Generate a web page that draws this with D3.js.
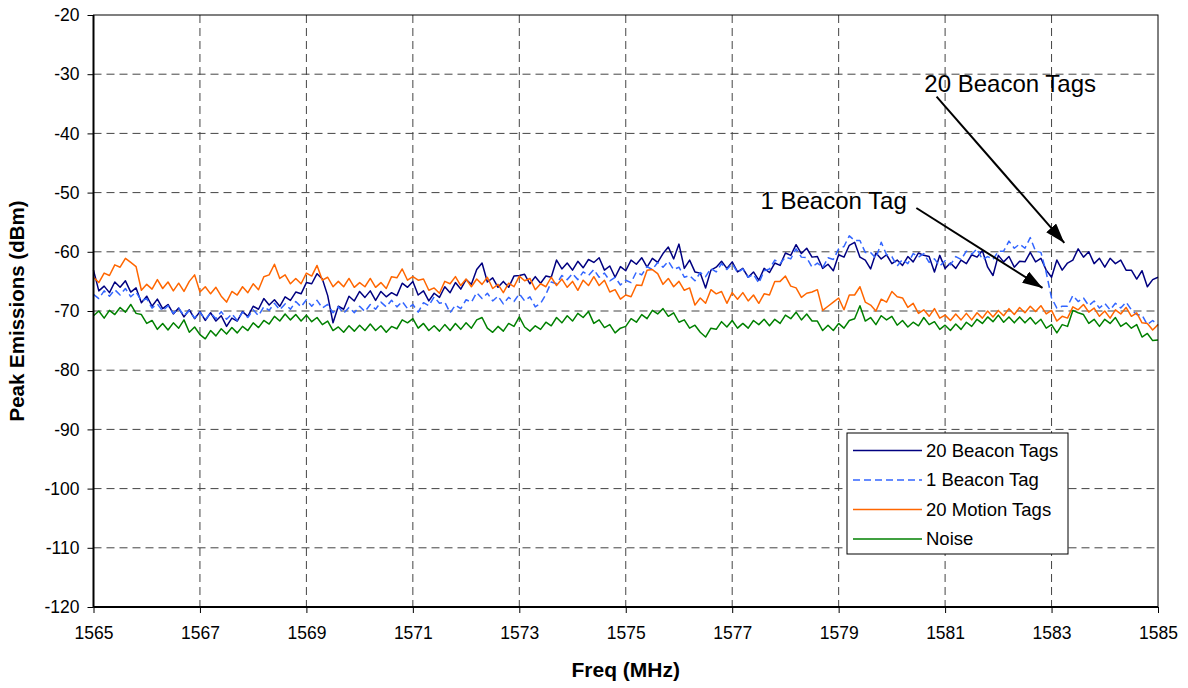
<!DOCTYPE html>
<html>
<head>
<meta charset="utf-8">
<script src="https://cdn.jsdelivr.net/npm/d3@7"></script>
<style>
  body { margin: 0; background: #fff; }
  svg { display: block; font-family: "Liberation Sans", Arial, sans-serif; }
</style>
</head>
<body>
<div id="chart"></div>
<script>
// sweep: 1565 - 1585 MHz, one reading every 0.1 MHz
var freqStart = 1565, freqStep = 0.1, nPoints = 201;

var beacon20 = [
  -63.1,-66.6,-65.8,-66.9,-65.1,-66.0,-64.9,-66.8,-66.1,-68.6,
  -67.5,-69.2,-68.0,-69.6,-68.9,-70.5,-69.5,-71.0,-69.8,-71.3,
  -70.1,-71.6,-70.3,-71.7,-70.8,-72.6,-71.2,-71.7,-70.1,-70.9,
  -69.2,-69.7,-67.9,-69.0,-68.1,-69.2,-67.6,-68.2,-66.8,-67.1,
  -65.2,-65.4,-63.7,-64.6,-67.4,-72.0,-69.2,-69.7,-67.5,-68.3,
  -66.7,-67.7,-66.6,-68.2,-66.7,-67.6,-66.9,-67.4,-65.3,-66.0,
  -65.0,-67.3,-66.6,-68.3,-67.0,-67.7,-65.9,-66.9,-65.2,-66.3,
  -64.7,-65.5,-63.0,-61.9,-65.1,-64.4,-66.0,-65.0,-66.0,-64.1,
  -64.0,-63.8,-65.4,-64.2,-65.3,-64.1,-64.3,-61.4,-62.9,-61.9,
  -63.1,-61.6,-62.7,-61.3,-61.8,-61.0,-63.1,-62.4,-64.3,-62.5,
  -63.2,-61.4,-62.1,-61.0,-62.6,-61.1,-61.8,-60.3,-59.2,-61.2,
  -58.7,-62.8,-61.4,-63.4,-63.6,-66.1,-63.1,-62.6,-61.6,-62.8,
  -61.7,-63.4,-62.8,-64.3,-63.4,-64.8,-62.8,-63.5,-61.9,-62.3,
  -60.2,-60.6,-58.8,-60.3,-59.4,-60.9,-60.8,-62.8,-62.1,-63.2,
  -60.5,-60.9,-58.9,-58.4,-60.9,-61.4,-62.9,-60.2,-61.2,-60.5,
  -62.0,-61.4,-62.3,-60.8,-61.7,-60.2,-60.6,-60.8,-63.4,-60.6,
  -62.8,-61.9,-62.8,-61.4,-62.0,-60.5,-60.9,-59.8,-62.6,-64.0,
  -60.6,-61.7,-60.8,-62.6,-61.6,-61.7,-60.1,-61.7,-61.1,-63.1,
  -64.3,-61.4,-63.1,-61.9,-61.4,-59.5,-60.9,-60.0,-62.0,-61.1,
  -62.6,-61.1,-62.0,-61.4,-63.1,-63.1,-64.6,-63.2,-65.9,-64.7,
  -64.3
];

var beacon1 = [
  -67.2,-67.9,-66.6,-67.5,-66.4,-67.3,-66.2,-67.6,-66.8,-68.3,
  -67.9,-69.5,-68.8,-70.0,-69.1,-70.4,-69.5,-70.8,-69.9,-71.2,
  -70.2,-71.5,-70.3,-71.3,-70.1,-71.4,-70.5,-71.6,-70.2,-71.1,
  -69.8,-70.8,-69.3,-69.9,-68.7,-69.8,-68.8,-69.7,-68.4,-69.3,
  -68.1,-69.2,-68.2,-69.5,-68.9,-70.3,-69.3,-70.4,-69.4,-70.3,
  -69.2,-70.1,-68.9,-69.7,-68.5,-69.3,-68.2,-69.3,-68.4,-69.6,
  -68.9,-70.2,-68.6,-69.1,-67.6,-68.7,-68.5,-70.3,-69.0,-69.6,
  -68.1,-68.5,-66.9,-67.9,-67.0,-68.3,-67.5,-68.8,-67.7,-68.4,
  -67.1,-68.3,-67.6,-69.3,-68.7,-67.2,-65.1,-65.4,-64.0,-64.7,
  -63.7,-64.7,-63.4,-64.0,-63.0,-64.3,-63.6,-64.9,-64.3,-65.6,
  -64.8,-65.2,-63.4,-63.9,-62.5,-63.0,-61.8,-62.6,-61.6,-63.0,
  -62.6,-64.3,-64.0,-64.9,-63.5,-64.2,-62.8,-63.4,-62.0,-63.0,
  -62.0,-63.5,-62.9,-64.3,-63.8,-65.3,-63.2,-62.9,-61.4,-62.0,
  -60.9,-61.2,-59.5,-60.9,-61.0,-62.6,-61.9,-62.7,-61.0,-61.3,
  -59.5,-59.1,-57.3,-58.1,-58.1,-60.1,-60.1,-61.1,-58.4,-60.5,
  -60.8,-62.4,-61.3,-62.0,-60.3,-60.9,-60.3,-61.8,-61.2,-62.4,
  -61.5,-62.2,-60.8,-61.3,-59.9,-60.4,-59.5,-61.3,-60.8,-61.3,
  -59.9,-59.9,-58.2,-59.4,-58.7,-59.4,-57.6,-59.9,-60.1,-63.5,
  -67.8,-69.5,-69.2,-69.2,-67.4,-68.4,-67.8,-69.1,-68.3,-69.5,
  -68.7,-69.8,-68.7,-69.5,-68.5,-69.8,-70.6,-70.7,-72.3,-71.6,
  -72.4
];

var motion20 = [
  -64.3,-65.2,-63.6,-64.0,-62.2,-62.6,-61.1,-61.8,-62.5,-66.5,
  -65.5,-66.3,-64.7,-66.2,-65.1,-66.6,-65.3,-66.7,-65.0,-63.9,
  -66.8,-65.9,-67.1,-66.0,-67.5,-68.5,-66.7,-67.3,-65.9,-66.9,
  -65.4,-66.4,-64.2,-63.9,-62.1,-64.5,-63.9,-65.4,-64.5,-65.4,
  -63.6,-64.1,-62.3,-64.8,-64.3,-65.9,-65.0,-65.9,-64.5,-66.0,
  -65.2,-65.9,-64.5,-66.0,-65.2,-66.2,-64.2,-64.4,-62.9,-64.8,
  -64.2,-64.8,-64.6,-66.5,-66.1,-67.0,-65.0,-65.4,-64.2,-65.7,
  -64.6,-65.9,-64.6,-65.5,-64.3,-66.2,-65.5,-66.9,-65.3,-65.9,
  -64.1,-64.9,-64.5,-66.4,-65.4,-65.9,-64.3,-65.7,-64.6,-66.0,
  -65.0,-66.5,-64.8,-65.7,-64.2,-65.7,-64.8,-66.8,-66.4,-68.0,
  -67.3,-67.6,-65.6,-65.7,-63.1,-63.0,-63.7,-65.5,-64.5,-65.9,
  -65.0,-66.5,-66.1,-69.0,-67.8,-68.7,-66.4,-67.1,-66.7,-68.7,
  -66.9,-68.0,-66.9,-68.3,-67.3,-68.7,-67.1,-67.3,-65.0,-65.0,
  -64.1,-65.8,-66.1,-67.7,-67.0,-66.8,-66.4,-69.9,-69.2,-68.5,
  -67.8,-69.8,-67.3,-67.3,-65.9,-68.5,-69.0,-70.0,-68.0,-68.5,
  -66.7,-67.6,-67.8,-69.4,-68.7,-70.4,-69.8,-70.9,-69.6,-71.2,
  -70.7,-71.6,-70.5,-71.5,-70.4,-71.5,-70.3,-71.2,-70.0,-71.0,
  -69.9,-70.8,-69.6,-70.6,-69.4,-70.3,-69.2,-70.1,-69.1,-70.5,
  -69.9,-71.7,-70.9,-71.2,-69.3,-69.8,-68.9,-70.2,-69.5,-70.9,
  -70.0,-71.2,-69.8,-70.5,-69.4,-70.9,-70.3,-72.0,-72.1,-73.2,
  -72.3
];

var noise = [
  -70.8,-70.0,-71.2,-69.9,-70.6,-69.4,-70.2,-68.9,-70.4,-70.6,
  -72.1,-71.6,-73.1,-72.1,-73.2,-72.0,-72.9,-71.5,-73.6,-72.7,
  -74.0,-74.7,-73.3,-74.2,-73.0,-73.9,-72.8,-73.7,-72.6,-73.3,
  -72.0,-72.8,-71.6,-72.2,-70.9,-71.7,-70.5,-71.5,-70.6,-71.7,
  -70.7,-71.8,-71.1,-72.3,-71.7,-73.3,-72.7,-73.6,-72.5,-73.4,
  -72.4,-73.3,-72.2,-73.3,-72.5,-73.6,-72.6,-73.0,-71.5,-72.0,
  -71.3,-72.9,-72.1,-73.3,-72.5,-73.4,-72.3,-73.3,-72.1,-73.1,
  -72.0,-72.9,-71.5,-71.1,-72.9,-73.6,-72.6,-73.4,-72.1,-72.6,
  -71.0,-72.7,-73.4,-72.5,-73.1,-71.9,-72.5,-71.1,-72.0,-70.8,
  -71.7,-70.4,-71.1,-70.1,-72.1,-71.5,-72.8,-72.3,-73.7,-72.9,
  -72.6,-71.3,-71.9,-70.6,-71.3,-69.9,-70.5,-69.6,-70.9,-70.3,
  -71.9,-71.5,-72.9,-72.4,-73.6,-74.4,-72.9,-73.1,-71.8,-72.7,
  -71.6,-72.9,-72.1,-72.9,-71.6,-72.3,-71.4,-72.5,-71.4,-72.1,
  -70.7,-71.3,-70.2,-71.5,-70.5,-71.7,-71.7,-73.3,-72.4,-73.3,
  -72.1,-72.9,-71.6,-71.3,-69.1,-71.7,-71.1,-72.3,-70.8,-71.5,
  -70.9,-72.4,-71.6,-72.7,-71.9,-72.5,-71.1,-72.3,-71.8,-73.1,
  -72.4,-73.3,-72.2,-73.1,-71.9,-72.6,-71.4,-72.1,-71.0,-71.8,
  -70.7,-71.9,-71.0,-72.0,-71.0,-72.0,-71.1,-72.2,-71.4,-72.9,
  -72.3,-73.7,-72.3,-72.6,-69.9,-70.3,-70.6,-72.1,-71.4,-72.6,
  -71.4,-72.1,-71.1,-72.6,-72.0,-72.9,-72.3,-74.4,-73.8,-75.0,
  -74.9
];

var seriesNames = ["20 Beacon Tags", "1 Beacon Tag", "20 Motion Tags", "Noise"];
var seriesColors = ["#000080", "#3366ff", "#ff6600", "#008000"];
var seriesDash = [null, "7,4", null, null];

var xTicks = [1565, 1567, 1569, 1571, 1573, 1575, 1577, 1579, 1581, 1583, 1585];
var yTicks = [-20, -30, -40, -50, -60, -70, -80, -90, -100, -110, -120];

// callout texts and arrows, in data units
var calloutLabels = ["20 Beacon Tags", "1 Beacon Tag"];
var calloutText = [[1580.61, -33.0], [1577.53, -52.8]];
var calloutFrom = [[1580.84, -33.8], [1580.46, -52.6]];
var calloutTo = [[1583.24, -58.5], [1582.83, -66.1]];

var freqs = d3.range(nPoints).map(function (i) { return freqStart + i * freqStep; });
var allSeries = [beacon20, beacon1, motion20, noise];

var W = 1188, H = 688;
var margin = {top: 15, right: 30, bottom: 81, left: 93.5};
var width = W - margin.left - margin.right,
    height = H - margin.top - margin.bottom;

var svg = d3.select("#chart").append("svg")
    .attr("width", W)
    .attr("height", H);

var g = svg.append("g")
    .attr("transform", "translate(" + margin.left + "," + margin.top + ")");

var x = d3.scaleLinear().domain([1565, 1585]).range([0, width]);
var y = d3.scaleLinear().domain([-120, -20]).range([height, 0]);

// grid
g.append("g").selectAll("line")
    .data(yTicks.slice(1, -1))
    .enter().append("line")
    .attr("x1", 0).attr("x2", width)
    .attr("y1", function (d) { return y(d); })
    .attr("y2", function (d) { return y(d); })
    .attr("stroke", "#444").attr("stroke-width", 1)
    .attr("stroke-dasharray", "8,5");

g.append("g").selectAll("line")
    .data(xTicks.slice(1, -1))
    .enter().append("line")
    .attr("y1", 0).attr("y2", height)
    .attr("x1", function (d) { return x(d); })
    .attr("x2", function (d) { return x(d); })
    .attr("stroke", "#444").attr("stroke-width", 1)
    .attr("stroke-dasharray", "8,5");

// series
var line = d3.line()
    .x(function (d, i) { return x(freqs[i]); })
    .y(function (d) { return y(d); });

allSeries.forEach(function (vals, k) {
    g.append("path")
        .datum(vals)
        .attr("fill", "none")
        .attr("stroke", seriesColors[k])
        .attr("stroke-width", 1.5)
        .attr("stroke-linejoin", "round")
        .attr("stroke-dasharray", seriesDash[k])
        .attr("d", line);
});

// frame
g.append("rect")
    .attr("width", width).attr("height", height)
    .attr("fill", "none").attr("stroke", "#000").attr("stroke-width", 1);
g.append("line").attr("x1", 0).attr("x2", 0).attr("y1", 0).attr("y2", height)
    .attr("stroke", "#000").attr("stroke-width", 2);
g.append("line").attr("x1", 0).attr("x2", width).attr("y1", height).attr("y2", height)
    .attr("stroke", "#000").attr("stroke-width", 2);

// axes (plain hyphen for negatives, like the original)
var yAxis = g.append("g")
    .call(d3.axisLeft(y).tickValues(yTicks).tickFormat(function (d) { return String(d); })
        .tickSize(6).tickPadding(8).tickSizeOuter(0));
var xAxis = g.append("g")
    .attr("transform", "translate(0," + height + ")")
    .call(d3.axisBottom(x).tickValues(xTicks).tickFormat(function (d) { return String(d); })
        .tickSize(6).tickPadding(14).tickSizeOuter(0));

[yAxis, xAxis].forEach(function (ax) {
    ax.select(".domain").remove();
    ax.selectAll(".tick line").attr("stroke", "#000");
    ax.selectAll("text")
        .attr("font-family", "Liberation Sans, Arial, sans-serif")
        .attr("font-size", 17.5)
        .attr("fill", "#000");
});

// axis titles
svg.append("text")
    .attr("x", margin.left + width / 2)
    .attr("y", 677)
    .attr("text-anchor", "middle")
    .attr("font-size", 21)
    .attr("font-weight", "bold")
    .text("Freq (MHz)");

svg.append("text")
    .attr("transform", "translate(24," + (margin.top + height / 2) + ") rotate(-90)")
    .attr("text-anchor", "middle")
    .attr("font-size", 20.5)
    .attr("font-weight", "bold")
    .text("Peak Emissions (dBm)");

// callouts
svg.append("defs").append("marker")
    .attr("id", "arrow")
    .attr("viewBox", "0 0 10 6.6")
    .attr("refX", 10).attr("refY", 3.3)
    .attr("markerWidth", 10).attr("markerHeight", 6.6)
    .attr("markerUnits", "strokeWidth")
    .attr("orient", "auto")
    .append("path")
    .attr("d", "M0,0L10,3.3L0,6.6z")
    .attr("fill", "#000");

calloutLabels.forEach(function (lab, k) {
    g.append("text")
        .attr("x", x(calloutText[k][0]))
        .attr("y", y(calloutText[k][1]))
        .attr("font-size", 24)
        .attr("fill", "#000")
        .text(lab);
    g.append("line")
        .attr("x1", x(calloutFrom[k][0])).attr("y1", y(calloutFrom[k][1]))
        .attr("x2", x(calloutTo[k][0])).attr("y2", y(calloutTo[k][1]))
        .attr("stroke", "#000").attr("stroke-width", 2)
        .attr("marker-end", "url(#arrow)");
});

// legend
var legend = svg.append("g").attr("transform", "translate(847,433)");
legend.append("rect")
    .attr("width", 221).attr("height", 121)
    .attr("fill", "#fff").attr("stroke", "#000").attr("stroke-width", 1);

var item = legend.selectAll(".item")
    .data(seriesNames)
    .enter().append("g")
    .attr("transform", function (d, i) { return "translate(0," + (17.5 + i * 29.5) + ")"; });

item.append("line")
    .attr("x1", 6).attr("x2", 75)
    .attr("stroke", function (d, i) { return seriesColors[i]; })
    .attr("stroke-width", 1.5)
    .attr("stroke-dasharray", function (d, i) { return seriesDash[i]; });

item.append("text")
    .attr("x", 79)
    .attr("dy", "0.35em")
    .attr("font-size", 18.5)
    .attr("fill", "#000")
    .text(function (d) { return d; });
</script>
</body>
</html>
